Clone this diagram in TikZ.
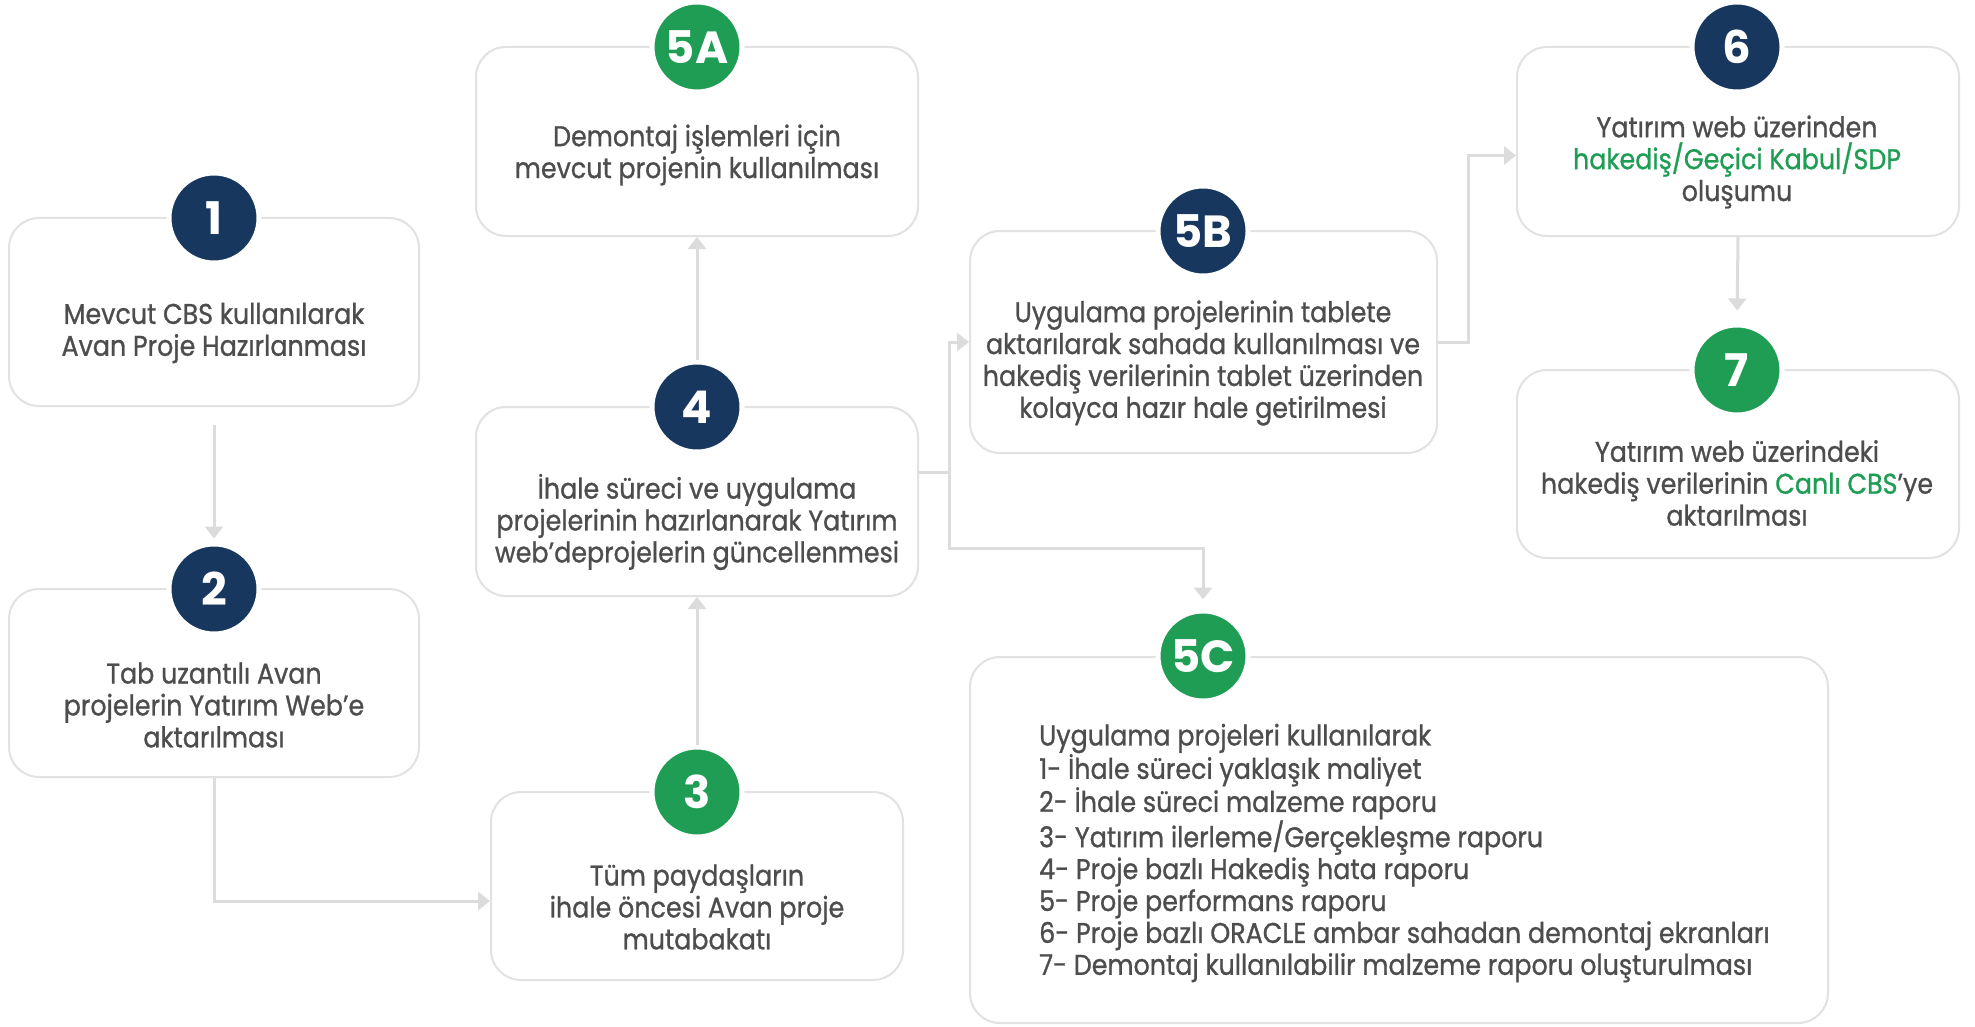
\documentclass[tikz,border=0pt]{standalone}
\usepackage{fontspec}
\setmainfont{Poppins}[FakeStretch=0.89,FakeBold=0.9]
\newfontfamily\numfont{Poppins}
\usetikzlibrary{arrows.meta}
\definecolor{navy}{HTML}{17375E}
\definecolor{grn}{HTML}{1F9D55}
\definecolor{txtc}{HTML}{4D4D4D}
\definecolor{bord}{HTML}{E2E2E2}
\definecolor{conc}{HTML}{DCDCDC}
\begin{document}
\begin{tikzpicture}[x=1pt,y=-1pt,
 box/.style={draw=bord, line width=2pt, rounded corners=30pt, fill=white, inner sep=0pt},
 num/.style={circle, minimum size=90pt, draw=white, line width=5pt, text=white, font=\numfont\fontsize{45}{45}\selectfont\bfseries, inner sep=0pt},
 navyc/.style={num, fill=navy},
 greenc/.style={num, fill=grn},
 txt/.style={align=center, text=txtc, font=\fontsize{28.5}{31.9}\selectfont, inner sep=0pt},
 conn/.style={draw=conc, line width=3pt, -{Triangle[width=18pt,length=12pt]}},
 connline/.style={draw=conc, line width=3pt},
]
\fill[white] (0,0) rectangle (1975,1027);
\useasboundingbox (0,0) rectangle (1975,1027);

% boxes
\node[box, minimum width=410pt, minimum height=188pt] (b1) at (214,312) {};
\node[box, minimum width=410pt, minimum height=188pt] (b2) at (214,683) {};
\node[box, minimum width=412pt, minimum height=188pt] (b3) at (697,886) {};
\node[box, minimum width=442pt, minimum height=189pt] (b4) at (697,501.5) {};
\node[box, minimum width=442pt, minimum height=189pt] (b5a) at (697,141.5) {};
\node[box, minimum width=467pt, minimum height=222pt] (b5b) at (1203.5,342) {};
\node[box, minimum width=442pt, minimum height=189pt] (b6) at (1738,141.5) {};
\node[box, minimum width=442pt, minimum height=188pt] (b7) at (1738,464) {};
\node[box, minimum width=858pt, minimum height=366pt] (b5c) at (1399,840) {};

% texts
\node[txt] (t1) at (214,333) {Mevcut CBS kullanılarak\\Avan Proje Hazırlanması};
\node[txt] (t2) at (214,705) {Tab uzantılı Avan\\projelerin Yatırım Web’e\\aktarılması};
\node[txt] (t3) at (697,907) {Tüm paydaşların\\ihale öncesi Avan proje\\mutabakatı};
\node[txt] (t4) at (697,522) {İhale süreci ve uygulama\\projelerinin hazırlanarak Yatırım\\web’deprojelerin güncellenmesi};
\node[txt] (t5a) at (697,155) {Demontaj işlemleri için\\mevcut projenin kullanılması};
\node[txt] (t5b) at (1203,363) {Uygulama projelerinin tablete\\aktarılarak sahada kullanılması ve\\hakediş verilerinin tablet üzerinden\\kolayca hazır hale getirilmesi};
\node[txt] (t6) at (1737,162) {Yatırım web üzerinden\\\textcolor{grn}{hakediş/Geçici Kabul/SDP}\\oluşumu};
\node[txt] (t7) at (1737,483) {Yatırım web üzerindeki\\hakediş verilerinin \textcolor{grn}{Canlı CBS}’ye\\aktarılması};
\node[txt, align=left, anchor=west] (t5c) at (1039,853) {Uygulama projeleri kullanılarak\\1- İhale süreci yaklaşık maliyet\\2- İhale süreci malzeme raporu\\3- Yatırım ilerleme/Gerçekleşme raporu\\4- Proje bazlı Hakediş hata raporu\\5- Proje performans raporu\\6- Proje bazlı ORACLE ambar sahadan demontaj ekranları\\7- Demontaj kullanılabilir malzeme raporu oluşturulması};

% circles
\node[navyc] (c1) at (214,218) {1};
\node[navyc] (c2) at (214,589) {2};
\node[greenc] (c3) at (697,792) {3};
\node[navyc] (c4) at (697,407) {4};
\node[greenc] (c5a) at (697,47) {5A};
\node[navyc] (c5b) at (1203,231) {5B};
\node[navyc] (c6) at (1737,47) {6};
\node[greenc] (c7) at (1737,370) {7};
\node[greenc] (c5c) at (1203,656) {5C};

% connectors
\draw[conn, shorten <=18pt, shorten >=3pt] (b1.south) -- (c2.north);
\draw[conn] (b2.south) |- ([yshift=-15pt]b3.west);
\draw[conn] (c3.north) -- (b4.south);
\draw[conn] (c4.north) -- (b5a.south);
\coordinate (j) at ([xshift=30pt,yshift=29pt]b4.east);
\coordinate (k) at (j |- 0,548);
\draw[connline] ([yshift=29pt]b4.east) -- (j);
\draw[conn] (j) |- (b5b.west);
\draw[conn, shorten >=9pt] (j) -- (k) -| (c5c.north);
\coordinate (m) at ([xshift=30pt]b5b.east);
\draw[conn] (b5b.east) -- (m) |- ([yshift=-14pt]b6.west);
\draw[conn, shorten >=12pt] (b6.south) -- (c7.north);
\end{tikzpicture}
\end{document}
